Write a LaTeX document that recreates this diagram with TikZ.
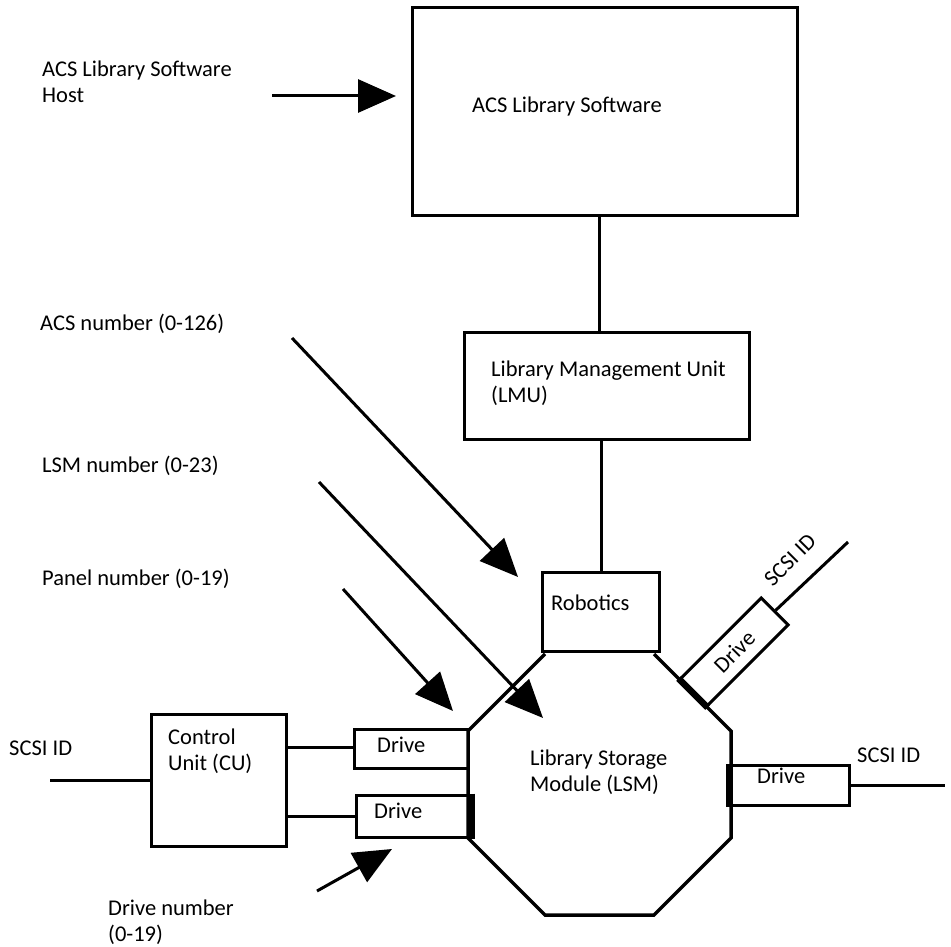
\documentclass[tikz,border=0pt]{standalone}
\usepackage{fontspec}
\setmainfont{Carlito}
\usetikzlibrary{arrows.meta}
\begin{document}
\begin{tikzpicture}[x=1pt,y=-1pt,
  box/.style={draw, line width=3pt, rectangle, inner sep=0pt},
  lbl/.style={font=\fontsize{22.5}{26}\selectfont, anchor=base west, inner sep=0pt, align=left},
  lblc/.style={font=\fontsize{22.5}{26}\selectfont, inner sep=0pt},
  wire/.style={line width=3pt},
  thick edge/.style={line width=6.5pt},
  bigarrow/.style={line width=3pt, -{Triangle[length=38pt,width=33pt]}},
  oct/.style={line width=3.5pt, line join=miter}]
\useasboundingbox (0,0) rectangle (951,947);

% top box and host
\node[box, minimum width=385pt, minimum height=207pt] (acs) at (604.5,111.5) {};
\node[lbl] (acst) at (472,113) {ACS Library Software};
\node[lbl] (host) at (42,103) {ACS Library Software\\Host};
\coordinate (hostS) at (272,96);
\coordinate (hostE) at (396,96);
\draw[bigarrow] (hostS) -- (hostE);

% LMU
\node[box, minimum width=285pt, minimum height=107pt] (lmu) at (606.5,385.5) {};
\node[lbl] (lmut) at (491,402) {Library Management Unit\\(LMU)};
\draw[wire] (acs.south -| 599,0) -- (lmu.north -| 599,0);

% Robotics
\node[box, minimum width=117pt, minimum height=79pt] (rob) at (600.5,611.5) {};
\node[lbl] (robt) at (551,610) {Robotics};
\draw[wire] (lmu.south -| 601,0) -- (rob.north -| 601,0);

% Octagon (LSM)
\coordinate (o1) at (545,654);
\coordinate (o2) at (468,731);
\coordinate (o3) at (468,838);
\coordinate (o4) at (545,915);
\coordinate (o5) at (654,915);
\coordinate (o6) at (731,838);
\coordinate (o7) at (731,731);
\coordinate (o8) at (654,654);
\draw[oct] (o1) -- (o2) -- (o3) -- (o4) -- (o5) -- (o6) -- (o7) -- (o8);
\node[lbl] (lsmt) at (530,791) {Library Storage\\Module (LSM)};

% Left drives and CU
\node[box, minimum width=114pt, minimum height=39pt] (d1) at (411,748.5) {};
\node[lbl] (d1t) at (377,752) {Drive};
\node[box, minimum width=114pt, minimum height=42pt] (d2) at (413,816) {};
\node[lbl] (d2t) at (374,818) {Drive};
\draw[thick edge] (d2.north east) -- (d2.south east);

\node[box, minimum width=135pt, minimum height=132pt] (cu) at (218.5,780) {};
\node[lbl] (cut) at (168,770) {Control\\Unit (CU)};
\draw[wire] (cu.east |- 0,747) -- (d1.west |- 0,747);
\draw[wire] (cu.east |- 0,816) -- (d2.west);

\coordinate (scsiL) at (50,780);
\draw[wire] (scsiL) -- (cu.west |- scsiL);
\node[lbl] (scsiLt) at (9,755) {SCSI ID};

% Right drive
\node[box, minimum width=118pt, minimum height=40pt] (d4) at (790,785) {};
\node[lbl] (d4t) at (757,783) {Drive};
\draw[thick edge] (d4.north west) -- (d4.south west);
\coordinate (scsiR) at (945,785);
\draw[wire] (d4.east) -- (scsiR);
\node[lbl] (scsiRt) at (857,762) {SCSI ID};

% Slanted drive
\node[box, rotate=45, anchor=west, minimum width=114pt, minimum height=38pt,
      font=\fontsize{22.5}{26}\selectfont] (d3) at (693,693) {Drive};
\draw[thick edge] (d3.south west) -- (d3.north west);
\coordinate (scsiD) at (848,542);
\draw[wire] (d3.east) -- (scsiD);
\node[lblc, rotate=45] (scsiDt) at (790,560) {SCSI ID};

% numbering labels and arrows
\node[lbl] (acsn) at (40,330) {ACS number (0-126)};
\coordinate (acsnS) at (292,338);
\coordinate (acsnE) at (518,577);
\draw[bigarrow] (acsnS) -- (acsnE);

\node[lbl] (lsmn) at (42,472) {LSM number (0-23)};
\coordinate (lsmnS) at (319,482);
\coordinate (lsmnE) at (543,718);
\draw[bigarrow] (lsmnS) -- (lsmnE);

\node[lbl] (paneln) at (42,585) {Panel number (0-19)};
\coordinate (panelS) at (343,589);
\coordinate (panelE) at (453,711);
\draw[bigarrow] (panelS) -- (panelE);

\node[lbl] (driven) at (108,941) {Drive number\\(0-19)};
\coordinate (drvS) at (317,891);
\coordinate (drvE) at (392,849);
\draw[bigarrow] (drvS) -- (drvE);
\end{tikzpicture}
\end{document}
